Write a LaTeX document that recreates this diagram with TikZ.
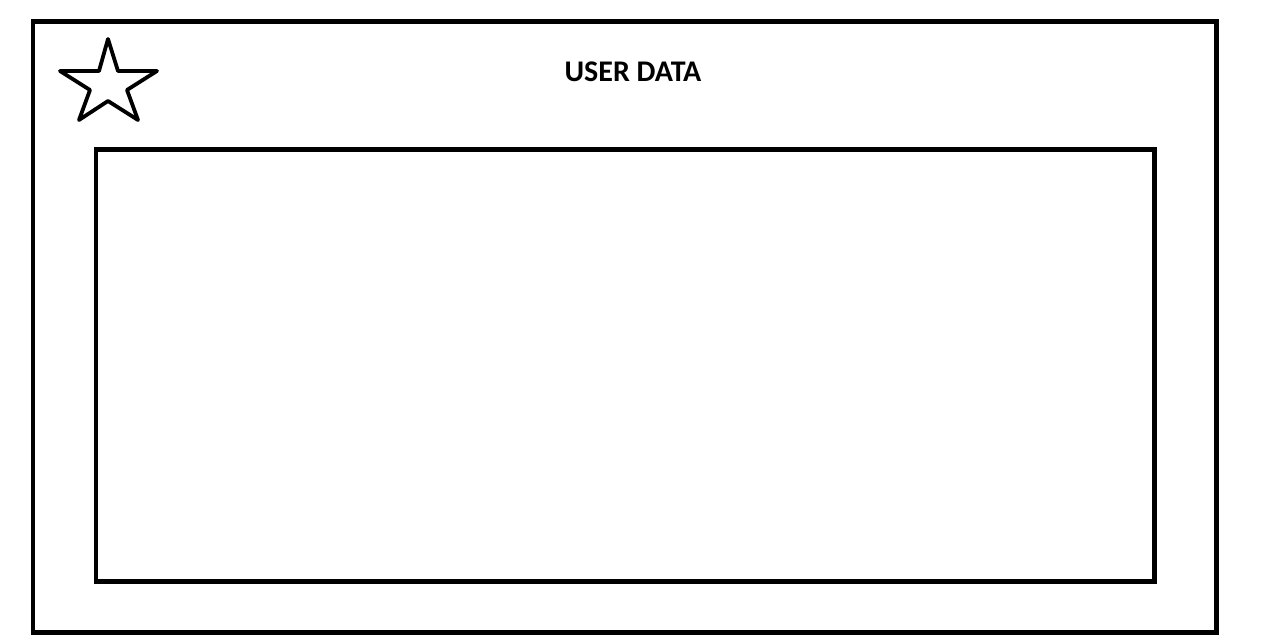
\documentclass[tikz,border=0pt]{standalone}
\usepackage{fontspec}
\setmainfont{Carlito}
\usetikzlibrary{positioning}

\begin{document}
\begin{tikzpicture}[x=1pt, y=-1pt,
    frame/.style={draw=black, line width=4.5pt, line join=miter},
    title/.style={font=\fontsize{30}{36}\selectfont\bfseries}]
\useasboundingbox (0,0) rectangle (1276,644);
% outer panel and content area
\draw[frame] (33,21.5) rectangle (1216.5,632.5);
\draw[frame] (96,149.5) rectangle (1154.5,581.5);
\node[title] (heading) at (633,72) {USER DATA};
% favourite star
\draw[line width=3.8pt, line join=round] (108,39) -- (118,71) -- (157,71) -- (127,90) -- (138,120)
  -- (108,101) -- (79,120) -- (90,90) -- (60,71) -- (99,71) -- cycle;
\end{tikzpicture}
\end{document}
